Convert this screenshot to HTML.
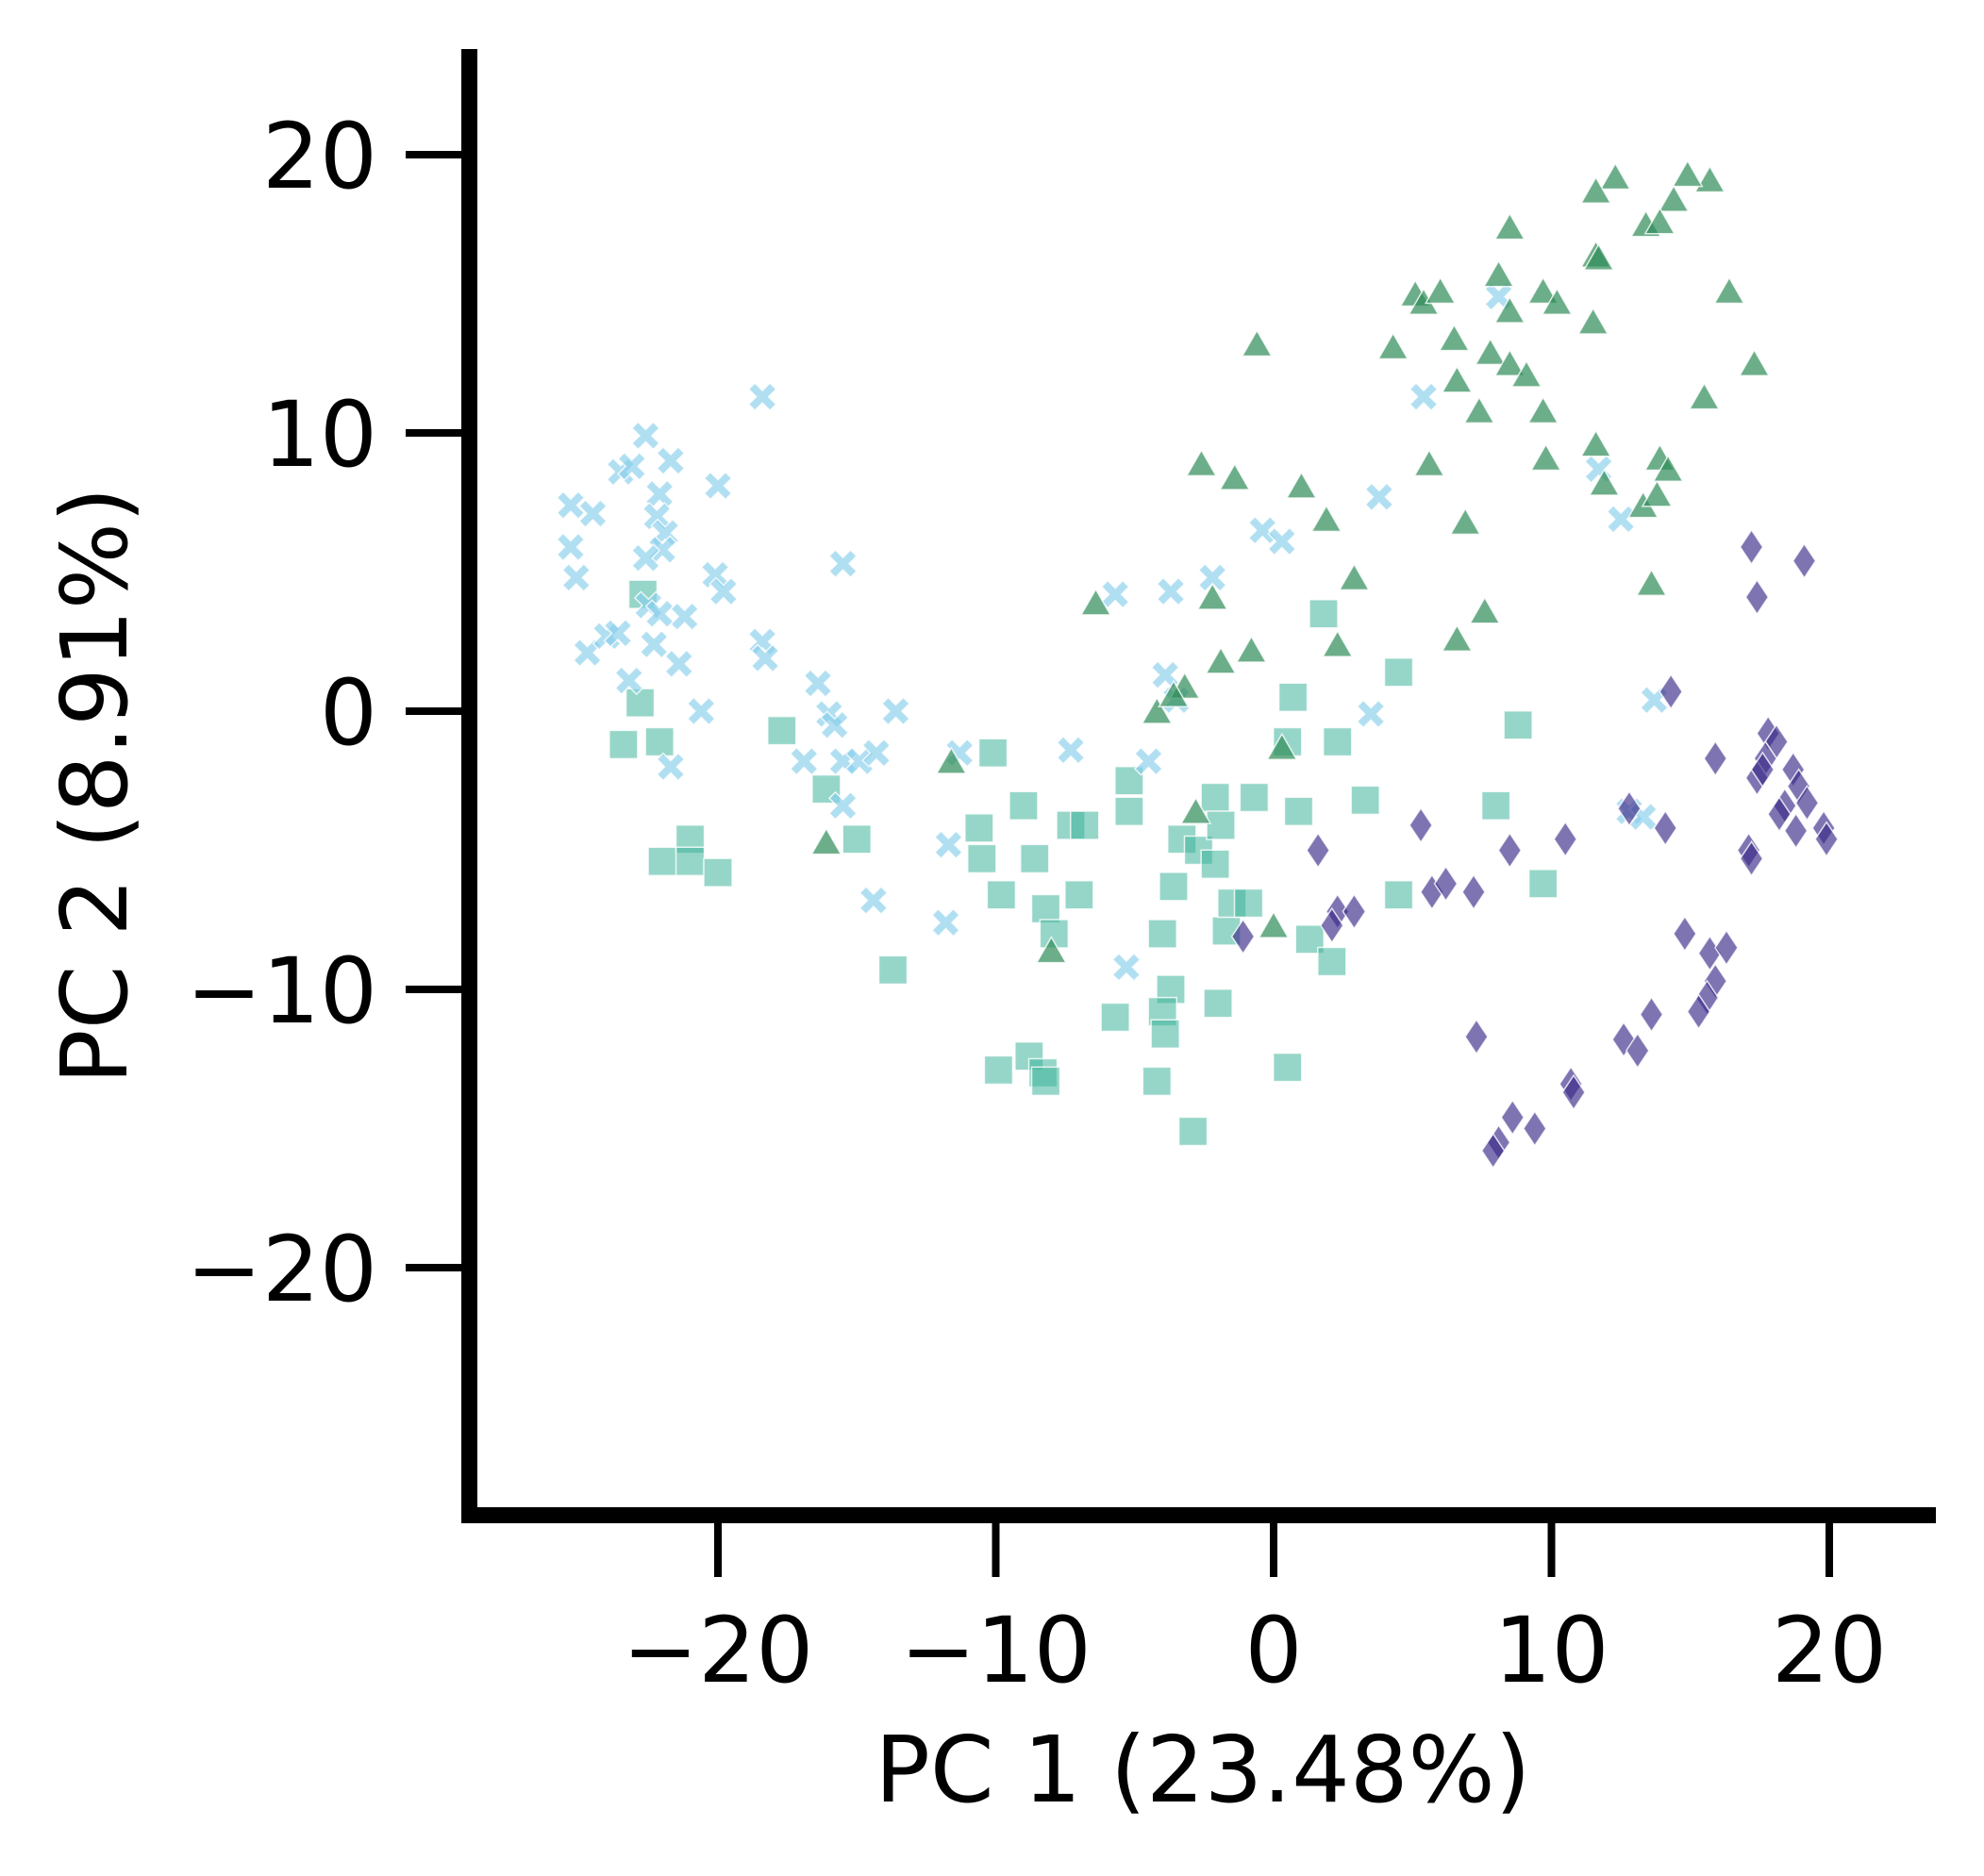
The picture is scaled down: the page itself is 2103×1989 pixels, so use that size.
<!DOCTYPE html>
<html><head><meta charset="utf-8"><style>
html,body{margin:0;padding:0;background:#fff;}
svg{display:block;}
text{font-family:"DejaVu Sans","Liberation Sans",sans-serif;fill:#000;}
</style></head><body>
<svg id="chart" width="2103" height="1989" viewBox="0 0 2103 1989" xmlns="http://www.w3.org/2000/svg">
<g id="marks"></g>
<g id="axes"></g>
</svg>
<script>
const xTicks = [-20, -10, 0, 10, 20];
const yTicks = [20, 10, 0, -10, -20];
const xTitle = "PC 1 (23.48%)";
const yTitle = "PC 2 (8.91%)";
const crossX = [-25.3,-24.5,-25.3,-25.1,-24.7,-24,-23.6,-23.2,-23.5,-23.1,-22.6,-22.1,-21.7,-22.2,-21.9,-22,-22.6,-22.5,-22.1,-21.2,-22.3,-21.4,-21.7,-20.6,-20.1,-19.8,-20,-18.4,-18.4,-18.3,-16.4,-16,-15.8,-16.9,-15.5,-15.5,-15.5,-14.9,-14.3,-13.6,-14.4,-11.3,-11.7,-11.8,-7.3,-5.7,-5.3,-4.5,-3.7,-3.9,-3.5,-2.2,-0.4,0.3,3.5,3.8,5.4,8.1,11.7,12.5,12.8,13.3,13.7];
const crossY = [7.4,7.1,5.9,4.8,2.1,2.7,2.8,1.1,8.6,8.8,9.9,7.8,9.0,7.0,6.4,5.8,5.5,3.8,3.5,3.4,2.4,1.7,-2,0,4.9,4.3,8.1,11.3,2.5,1.9,1.0,-0.1,-0.5,-1.8,5.3,-3.4,-1.8,-1.8,-1.5,0,-6.8,-1.5,-4.8,-7.6,-1.4,4.2,-9.2,-1.8,4.3,1.3,0.4,4.8,6.5,6.1,-0.1,7.7,11.3,14.9,8.7,6.9,-3.6,-3.8,0.4];
const squareX = [-22.7,-22.8,-23.4,-22.1,-22,-21,-21,-20,-17.7,-16.1,-15,-13.7,-10.1,-10.6,-10.5,-9.8,-9,-8.6,-8.2,-7.9,-7,-7.3,-6.8,-9.9,-8.8,-8.3,-8.2,-5.7,-5.2,-5.2,-3.6,-4,-3.7,-4,-3.9,-4.2,-2.9,-3.3,-2.7,-2.1,-2.1,-1.9,-1.7,-1.5,-0.9,-0.7,-2,0.5,0.7,0.9,1.3,1.8,2.3,2.1,0.5,3.3,4.5,4.5,8,8.8,9.7];
const squareY = [4.2,0.3,-1.2,-1.1,-5.4,-4.6,-5.4,-5.8,-0.7,-2.8,-4.6,-9.3,-1.5,-4.2,-5.3,-6.6,-3.4,-5.3,-7.1,-8.0,-6.6,-4.1,-4.1,-12.9,-12.4,-13,-13.3,-11,-2.5,-3.6,-6.3,-8,-10,-10.8,-11.6,-13.3,-15.1,-4.6,-5,-5.5,-3.1,-4.1,-7.9,-6.9,-6.9,-3.1,-10.5,-1.1,0.5,-3.6,-8.2,3.5,-1.1,-9,-12.8,-3.2,1.4,-6.6,-3.4,-0.5,-6.2];
const triX = [15.7,14.9,14.4,13.4,13.9,12.3,11.6,11.6,11.7,8.5,8.1,8.5,9.7,10.2,11.5,16.4,15.5,17.3,5.1,5.4,6,4.3,6.5,6.6,7.8,8.5,9.1,7.4,9.7,9.8,5.6,6.9,-0.6,-2.6,-1.4,1,1.9,2.9,2.3,7.6,6.6,11.6,11.9,13.3,13.8,13.9,14.2,13.6,-6.4,-2.2,-1.9,-0.8,-3.2,-4.2,-3.6,0.3,-2.8,-11.6,-16.1,-8,0];
const triY = [19,19.2,18.3,17.4,17.5,19.1,18.6,16.3,16.2,17.3,15.6,14.3,15,14.6,13.9,15,11.2,12.4,14.9,14.6,15,13,13.3,11.8,12.8,12.4,12,10.7,10.7,9,8.8,6.7,13.1,8.8,8.3,8,6.8,4.7,2.3,3.5,2.5,9.5,8.1,7.3,7.7,9,8.6,4.5,3.8,4,1.7,2.1,0.8,-0.1,0.5,-1.4,-3.7,-1.9,-4.8,-8.7,-7.8];
const diaX = [17.2,17.4,19.1,14.3,15.9,17.8,18.1,17.7,17.4,17.6,18.7,18.9,18.4,18.2,18.8,19.2,19.8,19.9,17.1,17.2,12.8,14.1,10.5,8.5,5.3,5.7,6.2,7.2,1.6,2.3,2.9,2.1,-1.1,14.8,15.7,16.3,15.9,15.6,15.3,13.6,12.6,13.1,7.3,10.7,10.8,8.6,9.4,8.1,7.9];
const diaY = [5.9,4.1,5.4,0.7,-1.7,-0.8,-1.1,-1.7,-2.4,-2.1,-2.1,-2.7,-3.4,-3.7,-4.3,-3.3,-4.2,-4.6,-5,-5.3,-3.5,-4.2,-4.6,-5,-4.1,-6.5,-6.2,-6.5,-5,-7.2,-7.2,-7.7,-8.1,-8,-8.7,-8.5,-9.7,-10.3,-10.8,-10.9,-11.8,-12.2,-11.7,-13.4,-13.7,-14.6,-15,-15.5,-15.8];

const NS="http://www.w3.org/2000/svg";
const sx = v => 1350 + v*29.45;
const sy = v => 754 - v*29.5;
const marks = document.getElementById('marks');
const axes = document.getElementById('axes');
function mk(tag, attrs, parent){const e=document.createElementNS(NS,tag);for(const k in attrs)e.setAttribute(k,attrs[k]);parent.appendChild(e);return e;}

function drawSeries(xs, ys, shape, fill, op){
  for(let i=0;i<xs.length;i++){
    const cx=sx(xs[i]), cy=sy(ys[i]);
    let d;
    if(shape==='square'){const h=15;d=`M${cx-h},${cy-h}H${cx+h}V${cy+h}H${cx-h}Z`;}
    else if(shape==='tri'){d=`M${cx},${cy-17}L${cx+15.5},${cy+10}L${cx-15.5},${cy+10}Z`;}
    else if(shape==='dia'){d=`M${cx},${cy-18}L${cx+12},${cy}L${cx},${cy+18}L${cx-12},${cy}Z`;}
    else {const a=14.5,b=6.5;d=`M${cx-a+b},${cy-a}L${cx},${cy-b}L${cx+a-b},${cy-a}L${cx+a},${cy-a+b}L${cx+b},${cy}L${cx+a},${cy+a-b}L${cx+a-b},${cy+a}L${cx},${cy+b}L${cx-a+b},${cy+a}L${cx-a},${cy+a-b}L${cx-b},${cy}L${cx-a},${cy-a+b}Z`;}
    const p=mk('path',{d:d,fill:fill,'fill-opacity':op,stroke:'#fff','stroke-width':1.5,'stroke-opacity':0.8},marks);
    
    
  }
}
drawSeries(squareX, squareY, 'square', '#3fb59b', 0.55);
drawSeries(crossX, crossY, 'cross', '#87ceeb', 0.65);
drawSeries(triX, triY, 'tri', '#2e8b57', 0.7);
drawSeries(diaX, diaY, 'dia', '#3a2a88', 0.65);

const ys=mk('rect',{x:489,y:52,width:17,height:1563,fill:'#000'},axes);


const xs=mk('rect',{x:489,y:1598,width:1563,height:17,fill:'#000'},axes);



xTicks.forEach(v=>{
  const t=mk('rect',{x:sx(v)-4,y:1615,width:8,height:57,fill:'#000'},axes);
  
  
  const l=mk('text',{x:sx(v),y:1783,'font-size':96,'text-anchor':'middle'},axes);
  l.textContent = v<0 ? '\u2212'+Math.abs(v) : String(v);
  
  
});
yTicks.forEach(v=>{
  const t=mk('rect',{x:430,y:sy(v)-4,width:59,height:8,fill:'#000'},axes);
  
  
  const l=mk('text',{x:400,y:sy(v)+35,'font-size':96,'text-anchor':'end'},axes);
  l.textContent = v<0 ? '\u2212'+Math.abs(v) : String(v);
  
  
});
const xt=mk('text',{x:1275,y:1910,'font-size':97,'text-anchor':'middle'},axes);
xt.textContent=xTitle;


const yt=mk('text',{x:0,y:0,'font-size':97,'text-anchor':'middle',transform:'translate(134,833) rotate(-90)'},axes);
yt.textContent=yTitle;


</script>
</body></html>
